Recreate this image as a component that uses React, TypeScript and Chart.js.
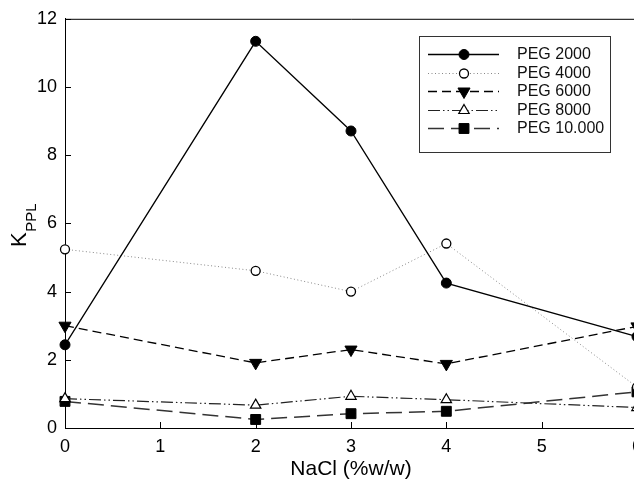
import React, { useEffect, useRef } from 'react';
import { Chart, registerables } from 'chart.js';
import { drawPoint } from 'chart.js/helpers';

Chart.register(...registerables);

const nacl = [0, 2, 3, 4, 6];
const peg2000 = [2.44, 11.34, 8.71, 4.25, 2.68];
const peg4000 = [5.24, 4.61, 4.0, 5.41, 1.2];
const peg6000 = [3.0, 1.91, 2.3, 1.88, 2.98];
const peg8000 = [0.86, 0.67, 0.93, 0.83, 0.6];
const peg10000 = [0.78, 0.25, 0.42, 0.49, 1.06];
const seriesNames = ['PEG 2000', 'PEG 4000', 'PEG 6000', 'PEG 8000', 'PEG 10.000'];
const xTicks = [0, 1, 2, 3, 4, 5, 6];
const yTicks = [0, 2, 4, 6, 8, 10, 12];
const xTitle = 'NaCl (%w/w)';
const yTitleMain = 'K';
const yTitleSub = 'PPL';

const FONT = "'Liberation Sans', Arial, Helvetica, sans-serif";

const pts = (ys: number[]) => nacl.map((x, i) => ({ x, y: ys[i] }));

const framePlugin = {
  id: 'frame',
  beforeDatasetsDraw(chart: any) {
    const { ctx, chartArea: a, scales } = chart;
    ctx.save();
    ctx.strokeStyle = '#000';
    ctx.lineWidth = 1;
    ctx.beginPath();
    ctx.moveTo(a.left, a.top + 0.5);
    ctx.lineTo(a.right + 0.5, a.top + 0.5);
    ctx.lineTo(a.right + 0.5, a.bottom);
    for (const v of yTicks) {
      const y = Math.round(scales.y.getPixelForValue(v)) + 0.5;
      ctx.moveTo(a.left, y);
      ctx.lineTo(a.left + 6, y);
    }
    for (const v of xTicks) {
      const x = Math.round(scales.x.getPixelForValue(v)) + 0.5;
      ctx.moveTo(x, a.bottom);
      ctx.lineTo(x, a.bottom - 6);
    }
    ctx.stroke();
    ctx.restore();
  },
  afterDraw(chart: any) {
    const { ctx, chartArea: a } = chart;
    // X title
    ctx.save();
    ctx.fillStyle = '#000';
    ctx.font = `21px ${FONT}`;
    ctx.textAlign = 'center';
    ctx.textBaseline = 'middle';
    ctx.fillText(xTitle, (a.left + a.right) / 2, 469);
    ctx.restore();

    // Y title with subscript
    ctx.save();
    ctx.fillStyle = '#000';
    ctx.translate(26, (a.top + a.bottom) / 2 + 2);
    ctx.rotate(-Math.PI / 2);
    ctx.textBaseline = 'alphabetic';
    ctx.textAlign = 'left';
    ctx.font = `22px ${FONT}`;
    const wK = ctx.measureText(yTitleMain).width;
    ctx.font = `15px ${FONT}`;
    const wS = ctx.measureText(yTitleSub).width;
    const start = -(wK + wS) / 2;
    ctx.font = `22px ${FONT}`;
    ctx.fillText(yTitleMain, start, 0);
    ctx.font = `15px ${FONT}`;
    ctx.fillText(yTitleSub, start + wK + 0.5, 10);
    ctx.restore();

    // Legend
    ctx.save();
    ctx.fillStyle = '#fff';
    ctx.fillRect(419.5, 36.5, 191, 116);
    ctx.strokeStyle = '#333';
    ctx.lineWidth = 1;
    ctx.strokeRect(419.5, 36.5, 191, 116);
    chart.data.datasets.forEach((ds: any, i: number) => {
      const y = Math.round(54 + i * 18.6) + 0.5;
      ctx.save();
      ctx.strokeStyle = ds.borderColor;
      ctx.lineWidth = ds.borderWidth;
      ctx.setLineDash(ds.borderDash || []);
      ctx.beginPath();
      ctx.moveTo(428, y);
      ctx.lineTo(499, y);
      ctx.stroke();
      ctx.setLineDash([]);
      ctx.fillStyle = ds.pointBackgroundColor;
      ctx.strokeStyle = ds.pointBorderColor;
      ctx.lineWidth = ds.pointBorderWidth;
      drawPoint(
        ctx,
        {
          pointStyle: ds.pointStyle,
          rotation: ds.pointRotation || 0,
          radius: ds.pointRadius,
          borderWidth: ds.pointBorderWidth,
        } as any,
        464,
        y
      );
      ctx.restore();
      ctx.fillStyle = '#111';
      ctx.font = `16px ${FONT}`;
      ctx.textAlign = 'left';
      ctx.textBaseline = 'middle';
      ctx.fillText(ds.label, 517, y + 0.5);
    });
    ctx.restore();
  },
};

export default function App() {
  const ref = useRef<HTMLCanvasElement | null>(null);

  useEffect(() => {
    if (!ref.current) return;
    const common = { tension: 0, fill: false, clip: false as any, showLine: true };
    const chart = new Chart(ref.current, {
      type: 'line',
      data: {
        datasets: [
          {
            ...common,
            label: seriesNames[0],
            data: pts(peg2000),
            borderColor: '#000',
            borderWidth: 1.3,
            borderDash: [],
            pointStyle: 'circle',
            pointRadius: 5,
            pointBackgroundColor: '#000',
            pointBorderColor: '#000',
            pointBorderWidth: 1,
          },
          {
            ...common,
            label: seriesNames[1],
            data: pts(peg4000),
            borderColor: '#888',
            borderWidth: 1,
            borderDash: [1, 2.5],
            pointStyle: 'circle',
            pointRadius: 4.5,
            pointBackgroundColor: '#fff',
            pointBorderColor: '#000',
            pointBorderWidth: 1.3,
          },
          {
            ...common,
            label: seriesNames[2],
            data: pts(peg6000),
            borderColor: '#000',
            borderWidth: 1.3,
            borderDash: [9, 5],
            pointStyle: 'triangle',
            pointRotation: 180,
            pointRadius: 7,
            pointBackgroundColor: '#000',
            pointBorderColor: '#000',
            pointBorderWidth: 1,
          },
          {
            ...common,
            label: seriesNames[3],
            data: pts(peg8000),
            borderColor: '#222',
            borderWidth: 1.2,
            borderDash: [12, 3, 1.5, 3, 1.5, 3],
            pointStyle: 'triangle',
            pointRadius: 6,
            pointBackgroundColor: '#fff',
            pointBorderColor: '#000',
            pointBorderWidth: 1.2,
          },
          {
            ...common,
            label: seriesNames[4],
            data: pts(peg10000),
            borderColor: '#333',
            borderWidth: 1.5,
            borderDash: [16, 7],
            pointStyle: 'rect',
            pointRadius: 7,
            pointBackgroundColor: '#000',
            pointBorderColor: '#000',
            pointBorderWidth: 1,
          },
        ] as any,
      },
      options: {
        responsive: false,
        devicePixelRatio: 1,
        animation: false,
        events: [],
        layout: { padding: { top: 18, right: 6, bottom: 0, left: 0 } },
        plugins: { legend: { display: false }, tooltip: { enabled: false } },
        scales: {
          x: {
            type: 'linear',
            min: 0,
            max: 6,
            grid: { display: false, drawTicks: false },
            border: { display: true, color: '#000', width: 1 },
            afterBuildTicks: (s: any) => {
              s.ticks = xTicks.map((v) => ({ value: v }));
            },
            afterFit: (s: any) => {
              s.height = 56;
            },
            ticks: {
              color: '#000',
              padding: 8,
              font: { family: FONT, size: 18 },
              maxRotation: 0,
              autoSkip: false,
            },
          },
          y: {
            type: 'linear',
            min: 0,
            max: 12,
            grid: { display: false, drawTicks: false },
            border: { display: true, color: '#000', width: 1 },
            afterBuildTicks: (s: any) => {
              s.ticks = yTicks.map((v) => ({ value: v }));
            },
            afterFit: (s: any) => {
              s.width = 65;
            },
            ticks: {
              color: '#000',
              padding: 8,
              font: { family: FONT, size: 18 },
            },
          },
        },
      } as any,
      plugins: [framePlugin],
    });
    return () => chart.destroy();
  }, []);

  return (
    <div
      style={{
        position: 'fixed',
        left: 0,
        top: 0,
        width: 634,
        height: 484,
        overflow: 'hidden',
        background: '#fff',
      }}
    >
      <canvas ref={ref} width={650} height={484} style={{ display: 'block', width: 650, height: 484 }} />
    </div>
  );
}
